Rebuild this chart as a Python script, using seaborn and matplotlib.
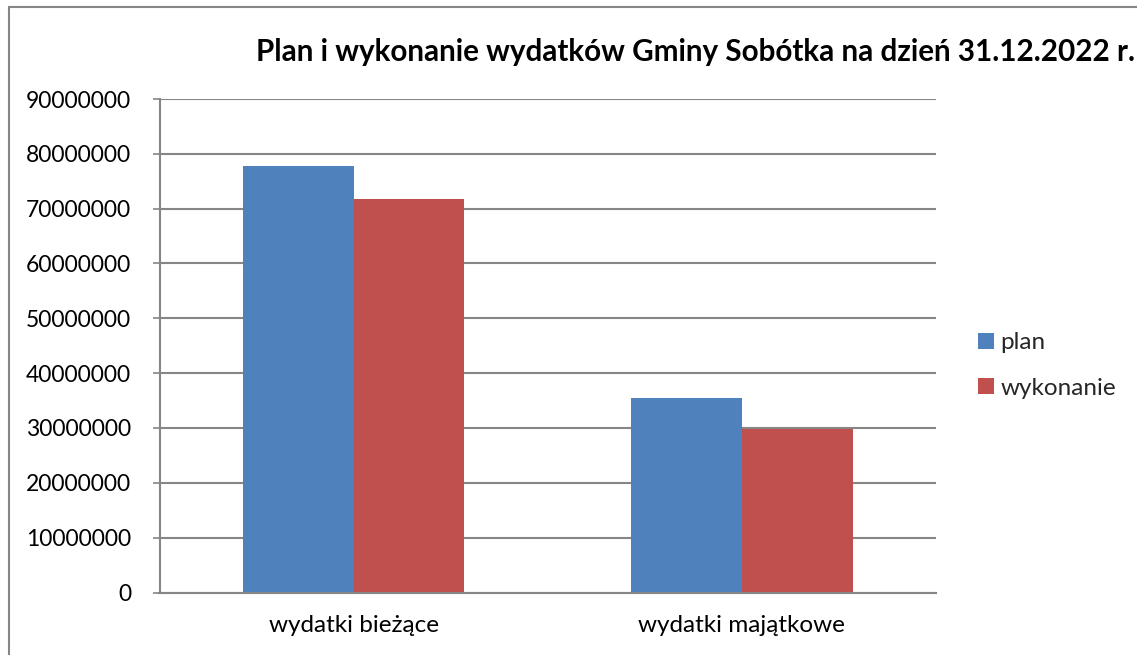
import matplotlib
matplotlib.use("Agg")
import matplotlib.pyplot as plt
from matplotlib.patches import Rectangle
import seaborn as sns
import pandas as pd

categories = ["wydatki bieżące", "wydatki majątkowe"]
series_names = ["plan", "wykonanie"]
plan_values = [77700000, 35450000]
wykonanie_values = [71700000, 29800000]
y_ticks = [0, 10000000, 20000000, 30000000, 40000000, 50000000,
           60000000, 70000000, 80000000, 90000000]
title = "Plan i wykonanie wydatków Gminy Sobótka na dzień 31.12.2022 r."
colors = ["#4F81BD", "#C0504D"]

df = pd.DataFrame({
    "kategoria": categories * 2,
    "seria": [series_names[0]] * 2 + [series_names[1]] * 2,
    "wartosc": plan_values + wykonanie_values,
})

sns.set_theme(style="white")
plt.rcParams["font.family"] = ["Lato", "DejaVu Sans"]

W, H = 1137, 655
fig = plt.figure(figsize=(W / 100, H / 100), dpi=100)
ax = fig.add_axes([159.5 / W, 1 - 592.5 / H, (936 - 159.5) / W, (592.5 - 99) / H])

sns.barplot(data=df, x="kategoria", y="wartosc", hue="seria",
            palette=colors, width=0.57, ax=ax, saturation=1,
            linewidth=0, errorbar=None, legend=True)

ax.set_xlim(-0.5, 1.5)
ax.set_ylim(0, 90000000)
ax.set_yticks(y_ticks)
ax.set_yticklabels([str(v) for v in y_ticks], fontsize=16.5, color="black")
ax.tick_params(axis="x", labelsize=17.5, colors="black", length=0, pad=16)
ax.tick_params(axis="y", length=5, width=1.2, color="#868686", pad=15.5, left=True)
ax.set_xlabel("")
ax.set_ylabel("")
ax.yaxis.grid(True, color="#868686", linewidth=1.5)
ax.set_axisbelow(True)
for s in ["top", "right"]:
    ax.spines[s].set_visible(False)
ax.spines["left"].set_color("#868686")
ax.spines["left"].set_linewidth(1.5)
ax.spines["bottom"].set_color("#868686")
ax.spines["bottom"].set_linewidth(1.5)

handles, labels = ax.get_legend_handles_labels()
ax.legend_.remove()
fig.legend(handles, labels, loc="center left",
           bbox_to_anchor=(978 / W, 1 - 365.5 / H), frameon=False,
           fontsize=17.5, handlelength=0.66, handleheight=0.66,
           handletextpad=0.25, labelspacing=1.0, borderpad=0,
           borderaxespad=0)

fig.text(696 / W, 1 - 52 / H, title, ha="center", va="center",
         fontsize=21.3, fontweight="bold", color="black")

fig.patches.append(Rectangle((8.5 / W, -0.1), 1.2, 1 - 6.5 / H + 0.1,
                             transform=fig.transFigure, fill=False,
                             edgecolor="#868686", linewidth=1.5))

fig.savefig("out.png", dpi=100)
